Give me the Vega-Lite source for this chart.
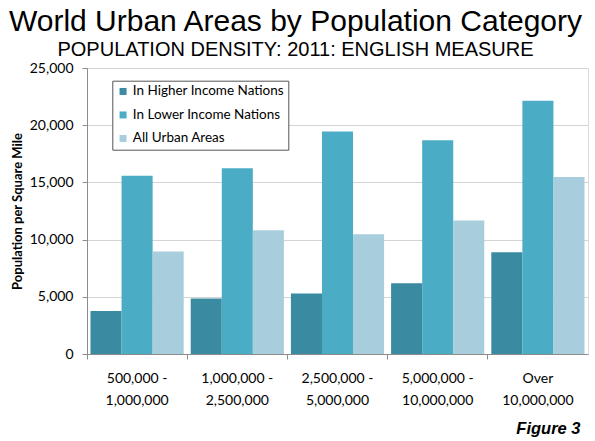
{
  "$schema": "https://vega.github.io/schema/vega-lite/v6.json",
  "width": 501,
  "height": 286,
  "autosize": "none",
  "padding": {"left": 87, "top": 68, "right": 7, "bottom": 87},
  "background": "white",
  "title": {
    "text": "World Urban Areas by Population Category",
    "subtitle": "POPULATION DENSITY: 2011: ENGLISH MEASURE",
    "anchor": "middle",
    "frame": "group",
    "dx": -42,
    "offset": 1,
    "font": "Liberation Sans",
    "fontSize": 30,
    "fontWeight": "normal",
    "color": "black",
    "subtitleFont": "Liberation Sans",
    "subtitleFontSize": 20,
    "subtitleColor": "black",
    "subtitlePadding": 3
  },
  "data": {
    "values": [
      {"category": "500,000 -|1,000,000", "series": "In Higher Income Nations", "value": 3750},
      {"category": "500,000 -|1,000,000", "series": "In Lower Income Nations", "value": 15580},
      {"category": "500,000 -|1,000,000", "series": "All Urban Areas", "value": 8950},
      {"category": "1,000,000 -|2,500,000", "series": "In Higher Income Nations", "value": 4850},
      {"category": "1,000,000 -|2,500,000", "series": "In Lower Income Nations", "value": 16230},
      {"category": "1,000,000 -|2,500,000", "series": "All Urban Areas", "value": 10820},
      {"category": "2,500,000 -|5,000,000", "series": "In Higher Income Nations", "value": 5290},
      {"category": "2,500,000 -|5,000,000", "series": "In Lower Income Nations", "value": 19440},
      {"category": "2,500,000 -|5,000,000", "series": "All Urban Areas", "value": 10460},
      {"category": "5,000,000 -|10,000,000", "series": "In Higher Income Nations", "value": 6190},
      {"category": "5,000,000 -|10,000,000", "series": "In Lower Income Nations", "value": 18680},
      {"category": "5,000,000 -|10,000,000", "series": "All Urban Areas", "value": 11670},
      {"category": "Over|10,000,000", "series": "In Higher Income Nations", "value": 8890},
      {"category": "Over|10,000,000", "series": "In Lower Income Nations", "value": 22130},
      {"category": "Over|10,000,000", "series": "All Urban Areas", "value": 15470}
    ]
  },
  "mark": {"type": "bar"},
  "encoding": {
    "x": {
      "field": "category",
      "type": "nominal",
      "sort": ["500,000 -|1,000,000", "1,000,000 -|2,500,000", "2,500,000 -|5,000,000", "5,000,000 -|10,000,000", "Over|10,000,000"],
      "scale": {"paddingInner": 0, "paddingOuter": 0},
      "axis": {
        "title": "Figure 3",
        "titleFont": "Liberation Sans",
        "titleFontSize": 16.5,
        "titleFontWeight": "bold",
        "titleFontStyle": "italic",
        "titleColor": "black",
        "titleAlign": "right",
        "titleBaseline": "alphabetic",
        "titleX": 493,
        "titleY": 79,
        "labelAngle": 0,
        "labelExpr": "split(datum.label, '|')",
        "labelFont": "Lato",
        "labelFontSize": 14,
        "labelColor": "black",
        "labelLineHeight": 22,
        "labelPadding": 12,
        "labelBaseline": "top",
        "bandPosition": 0,
        "domainColor": "#8c8c8c",
        "tickColor": "#8c8c8c",
        "tickSize": 5,
        "grid": false
      }
    },
    "xOffset": {
      "field": "series",
      "sort": ["In Higher Income Nations", "In Lower Income Nations", "All Urban Areas"],
      "scale": {"paddingInner": 0, "paddingOuter": 0.113}
    },
    "y": {
      "field": "value",
      "type": "quantitative",
      "scale": {"domain": [0, 25000], "nice": false},
      "axis": {
        "title": "Population per Square Mile",
        "titleFont": "Lato",
        "titleFontSize": 13,
        "titleFontWeight": "bold",
        "titleColor": "black",
        "titleX": -69.5,
        "titleY": 143,
        "titleAlign": "center",
        "titleBaseline": "middle",
        "values": [0, 5000, 10000, 15000, 20000, 25000],
        "format": ",.0f",
        "labelFont": "Lato",
        "labelFontSize": 14,
        "labelColor": "black",
        "labelPadding": 9,
        "tickSize": 5,
        "tickColor": "#8c8c8c",
        "domainColor": "#8c8c8c",
        "gridColor": "#d4d4d4",
        "grid": true
      }
    },
    "color": {
      "field": "series",
      "type": "nominal",
      "sort": ["In Higher Income Nations", "In Lower Income Nations", "All Urban Areas"],
      "scale": {"range": ["#3A8AA2", "#4BACC6", "#A8CEDD"]},
      "legend": {
        "title": null,
        "orient": "none",
        "legendX": 25.3,
        "legendY": 12.7,
        "strokeColor": "#555555",
        "fillColor": "white",
        "padding": 4,
        "symbolType": "square",
        "symbolSize": 49,
        "symbolStrokeWidth": 0,
        "labelFont": "Lato",
        "labelFontSize": 13.5,
        "labelColor": "black",
        "labelOffset": 3,
        "rowPadding": 8.5
      }
    }
  }
}
